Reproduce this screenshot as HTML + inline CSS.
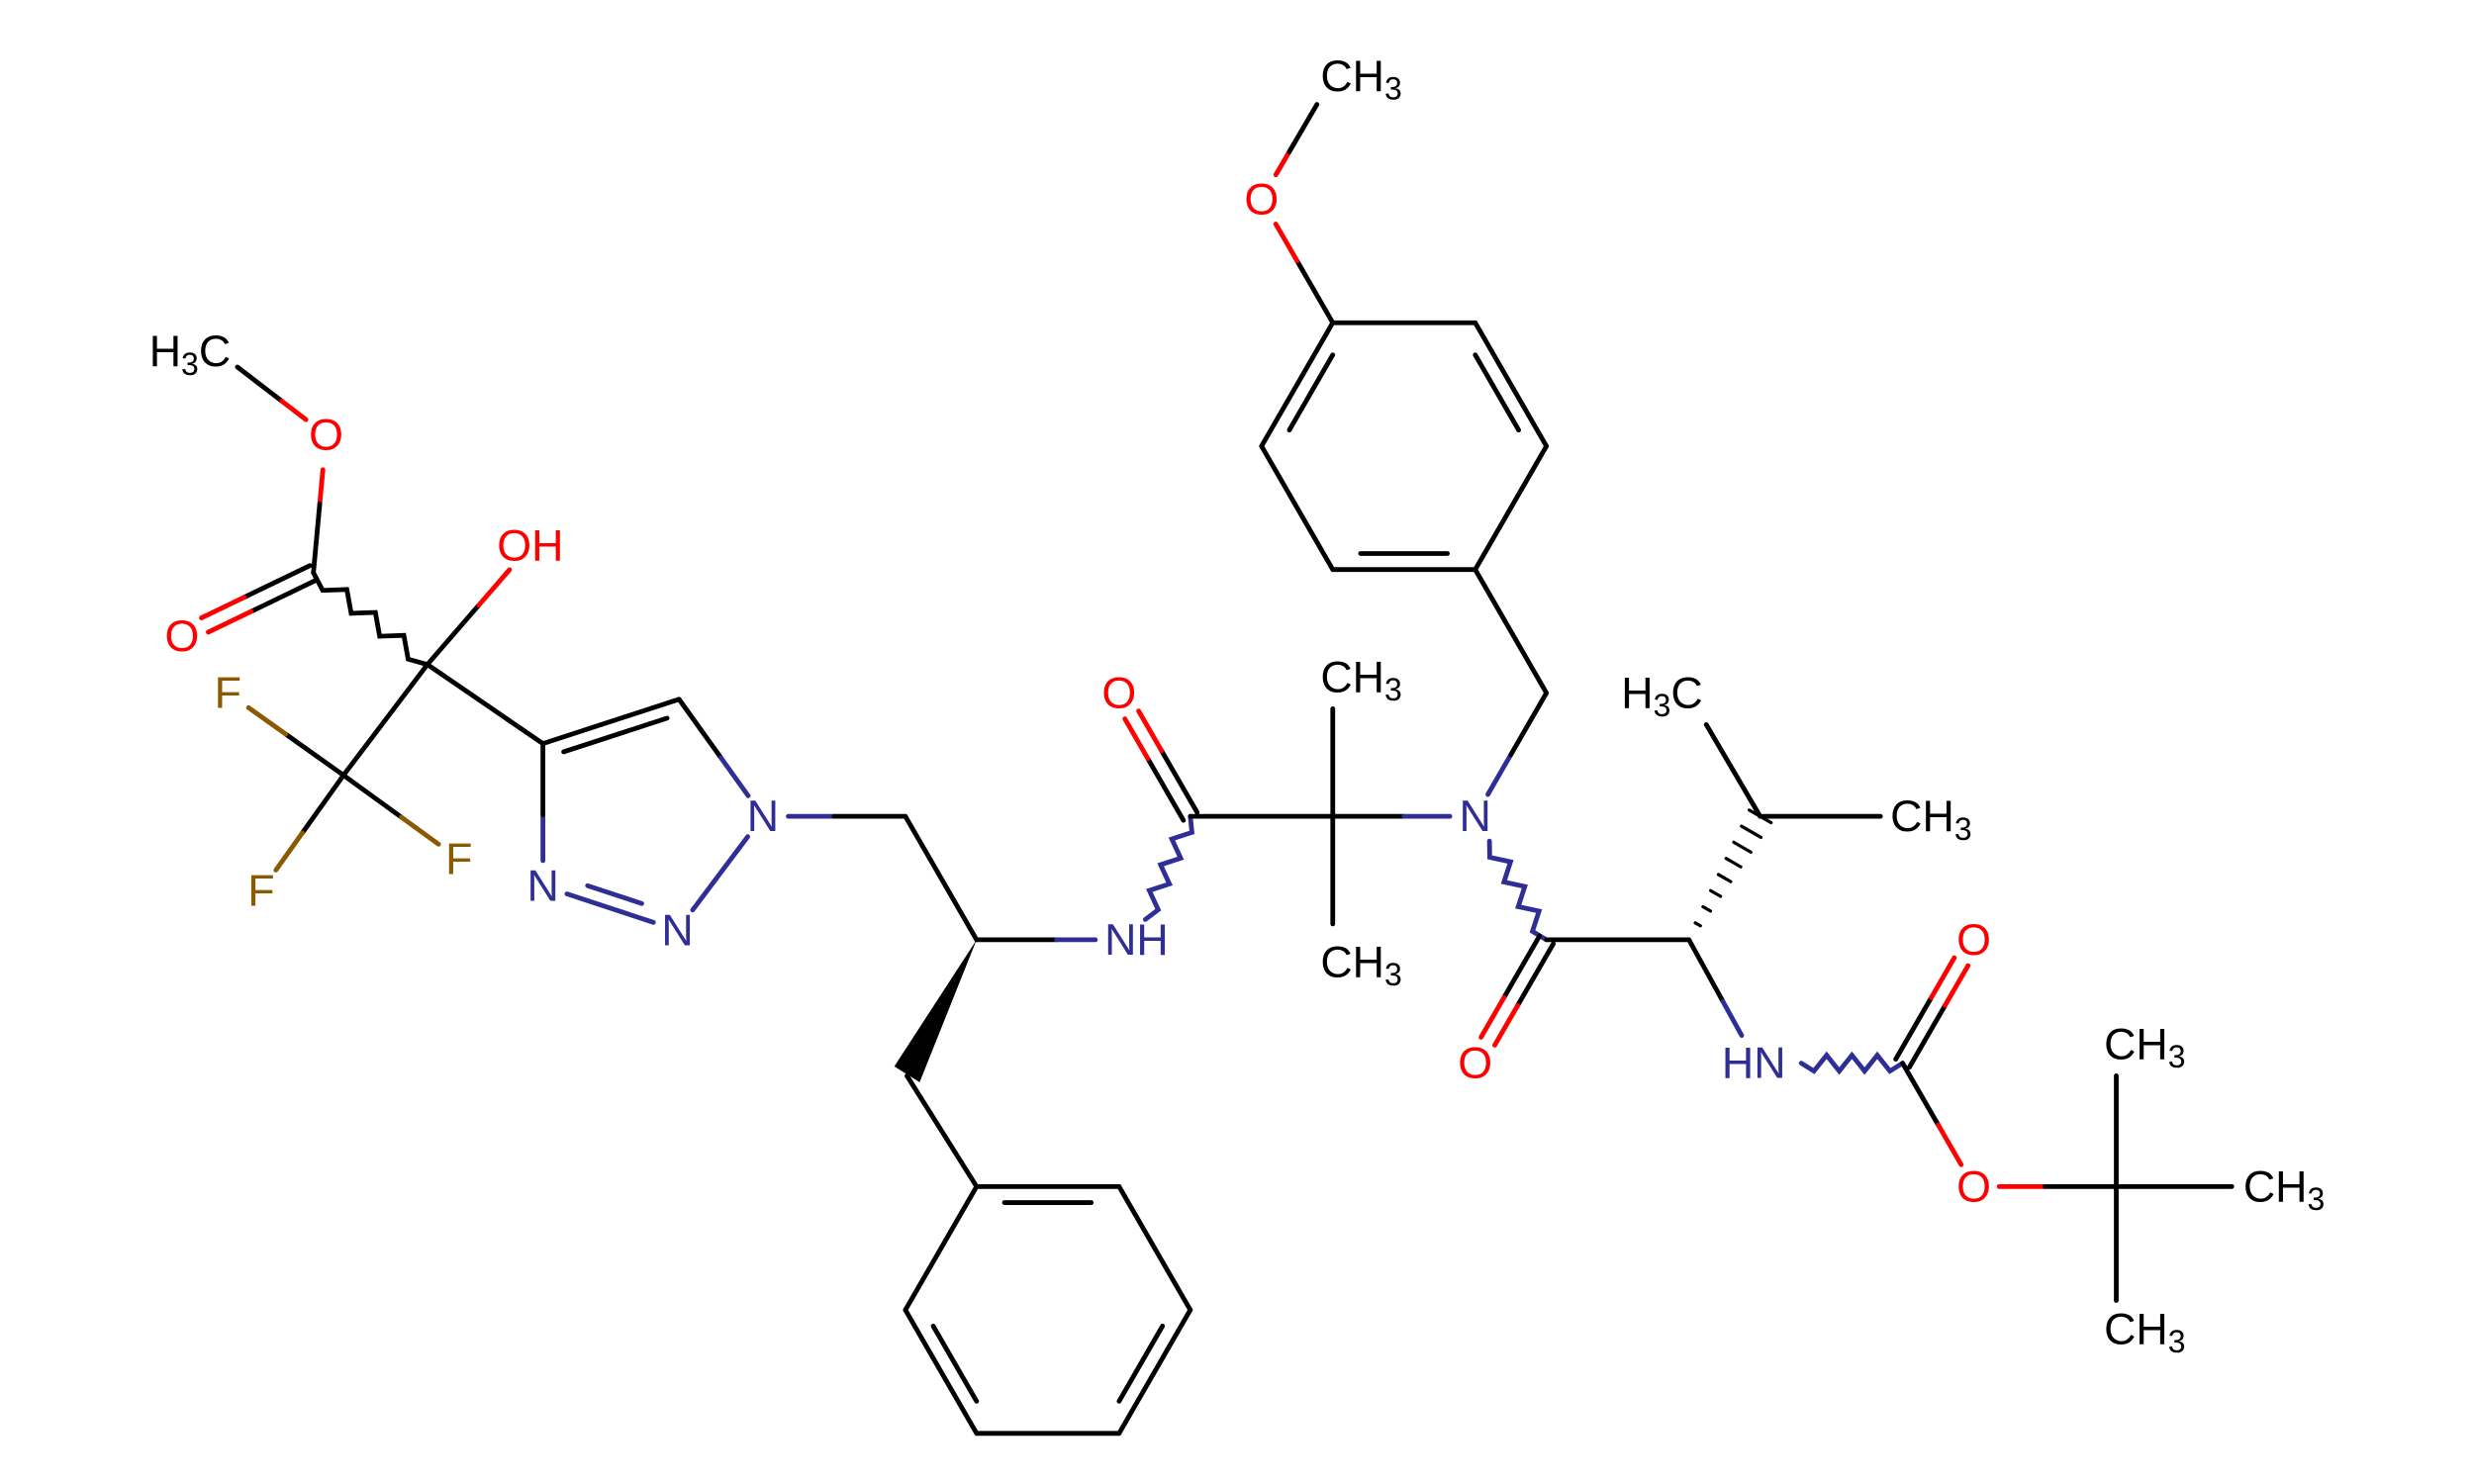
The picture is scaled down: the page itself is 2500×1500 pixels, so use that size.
<!DOCTYPE html>
<html><head><meta charset="utf-8"><style>
html,body{margin:0;padding:0;background:#fff}
svg{display:block}
text{font-family:"Liberation Sans","DejaVu Sans",sans-serif;font-size:28px}
</style></head><body>
<svg id="s" width="2500" height="1500" viewBox="0 0 1563 938" preserveAspectRatio="none" xmlns="http://www.w3.org/2000/svg">
<rect width="1563" height="938" fill="#fff"/>
<g id="b" stroke-width="3" stroke-linecap="round" fill="none"></g>
<polygon points="617,594 565,674 581,684" fill="#000"/>
<g text-anchor="middle" dominant-baseline="central">
<text x="120" y="222" fill="#000">H<tspan font-size="20" dy="8">3</tspan><tspan dy="-8">C</tspan></text>
<text x="206" y="275" fill="#f00">O</text>
<text x="115" y="402" fill="#f00">O</text>
<text x="335" y="345" fill="#f00">OH</text>
<text x="144" y="438" fill="#8b5a00">F</text>
<text x="165" y="563" fill="#8b5a00">F</text>
<text x="290" y="543" fill="#8b5a00">F</text>
<text x="482" y="516" fill="#2e2e96">N</text>
<text x="428" y="588" fill="#2e2e96">N</text>
<text x="343" y="560" fill="#2e2e96">N</text>
<text x="718" y="594" fill="#2e2e96">NH</text>
<text x="707" y="438" fill="#f00">O</text>
<text x="860" y="428" fill="#000">CH<tspan font-size="20" dy="8">3</tspan></text>
<text x="860" y="608" fill="#000">CH<tspan font-size="20" dy="8">3</tspan></text>
<text x="932" y="516" fill="#2e2e96">N</text>
<text x="797" y="126" fill="#f00">O</text>
<text x="860" y="48" fill="#000">CH<tspan font-size="20" dy="8">3</tspan></text>
<text x="932" y="672" fill="#f00">O</text>
<text x="1050" y="438" fill="#000">H<tspan font-size="20" dy="8">3</tspan><tspan dy="-8">C</tspan></text>
<text x="1220" y="516" fill="#000">CH<tspan font-size="20" dy="8">3</tspan></text>
<text x="1108" y="672" fill="#2e2e96">HN</text>
<text x="1247" y="594" fill="#f00">O</text>
<text x="1247" y="750" fill="#f00">O</text>
<text x="1355" y="660" fill="#000">CH<tspan font-size="20" dy="8">3</tspan></text>
<text x="1443" y="750" fill="#000">CH<tspan font-size="20" dy="8">3</tspan></text>
<text x="1355" y="840" fill="#000">CH<tspan font-size="20" dy="8">3</tspan></text>
</g>
</svg>
<script>
var g=document.getElementById('b'),NS='http://www.w3.org/2000/svg';
var K='#000',R='#f00',Nc='#2e2e96',F='#8b5a00';
function ln(x1,y1,x2,y2,c){var l=document.createElementNS(NS,'line');l.setAttribute('x1',x1);l.setAttribute('y1',y1);l.setAttribute('x2',x2);l.setAttribute('y2',y2);l.setAttribute('stroke',c);g.appendChild(l);}
function bd(a,b,ca,cb,sa,sb){var dx=b[0]-a[0],dy=b[1]-a[1],L=Math.hypot(dx,dy),ux=dx/L,uy=dy/L;
var A=[a[0]+ux*(sa||0),a[1]+uy*(sa||0)],B=[b[0]-ux*(sb||0),b[1]-uy*(sb||0)],M=[(a[0]+b[0])/2,(a[1]+b[1])/2];
if(ca==cb){ln(A[0],A[1],B[0],B[1],ca);}else{ln(A[0],A[1],M[0],M[1],ca);ln(M[0],M[1],B[0],B[1],cb);}}
function dbl(a,b,ca,cb,sa,sb,off,side){var dx=b[0]-a[0],dy=b[1]-a[1],L=Math.hypot(dx,dy),px=-dy/L*off,py=dx/L*off;
if(side==0){bd([a[0]+px/2,a[1]+py/2],[b[0]+px/2,b[1]+py/2],ca,cb,sa,sb);bd([a[0]-px/2,a[1]-py/2],[b[0]-px/2,b[1]-py/2],ca,cb,sa,sb);}
else{bd(a,b,ca,cb,sa,sb);var ux=dx/L,uy=dy/L,t=L*0.12;bd([a[0]+px*side+ux*t,a[1]+py*side+uy*t],[b[0]+px*side-ux*t,b[1]+py*side-uy*t],ca,cb,sa,sb);}}
function wavy(a,b,c,sa,sb){var dx=b[0]-a[0],dy=b[1]-a[1],L=Math.hypot(dx,dy),ux=dx/L,uy=dy/L,px=-uy,py=ux;
var s=sa||0,e=L-(sb||0),n=8,d='';for(var i=0;i<=n;i++){var t=s+(e-s)*i/n,o=(i==0||i==n)?0:(i%2?5:-5);d+=(i?'L':'M')+(a[0]+ux*t+px*o)+','+(a[1]+uy*t+py*o);}
var p=document.createElementNS(NS,'path');p.setAttribute('d',d);p.setAttribute('stroke',c);g.appendChild(p);}
function hash(a,b){var dx=b[0]-a[0],dy=b[1]-a[1],L=Math.hypot(dx,dy),px=-dy/L,py=dx/L;
for(var i=0;i<=8;i++){var t=i/8,w=1+t*7,x=a[0]+dx*t,y=a[1]+dy*t;var l=document.createElementNS(NS,'line');l.setAttribute('x1',x+px*w);l.setAttribute('y1',y+py*w);l.setAttribute('x2',x-px*w);l.setAttribute('y2',y-py*w);l.setAttribute('stroke','#000');l.setAttribute('stroke-width','2');g.appendChild(l);}}
// left part
bd([150,232],[206,275],K,R,0,16);
bd([206,275],[198,362],R,K,22,0);
dbl([198,362],[115,402],K,R,0,16,10,0);
wavy([198,362],[270,420],K);
bd([270,420],[335,345],K,R,0,20);
bd([270,420],[217,490],K,K);
bd([217,490],[144,438],K,F,0,16);
bd([217,490],[165,563],K,F,0,16);
bd([217,490],[290,543],K,F,0,16);
bd([270,420],[343,470],K,K);
// triazole
var C4=[343,470],C5=[429,442],N1=[482,516],N2=[428,588],N3=[343,560];
dbl(C4,C5,K,K,0,0,9,1);
bd(C5,N1,K,Nc,0,16);
bd(N1,N2,Nc,Nc,16,16);
dbl(N3,N2,Nc,Nc,16,16,9,-1);
bd(N3,C4,Nc,K,16,0);
bd(N1,[572,516],Nc,K,16,0);
bd([572,516],[617,594],K,K);
bd([617,594],[718,594],K,Nc,0,26);
bd([573,680],[617,750],K,K);
// phenyl
var P=[[617,750],[707,750],[752,828],[707,906],[617,906],[572,828]];
for(var i=0;i<6;i++){bd(P[i],P[(i+1)%6],K,K);}
function inner(a,b,cx,cy){var f=0.13,s=0.15;var A=[a[0]+(cx-a[0])*f,a[1]+(cy-a[1])*f],B=[b[0]+(cx-b[0])*f,b[1]+(cy-b[1])*f];var dx=B[0]-A[0],dy=B[1]-A[1];ln(A[0]+dx*s,A[1]+dy*s,B[0]-dx*s,B[1]-dy*s,K);}
inner(P[0],P[1],662,828);inner(P[2],P[3],662,828);inner(P[4],P[5],662,828);
// amide 1
wavy([718,594],[752,516],Nc,14,0);
dbl([752,516],[707,438],K,R,0,16,10,0);
bd([752,516],[842,516],K,K);
bd([842,516],[842,448],K,K);
bd([842,516],[842,584],K,K);
bd([842,516],[932,516],K,Nc,0,16);
// PMB
bd([932,516],[977,438],Nc,K,16,0);
bd([977,438],[932,360],K,K);
var Q=[[932,360],[842,360],[797,282],[842,204],[932,204],[977,282]];
for(var i=0;i<6;i++){bd(Q[i],Q[(i+1)%6],K,K);}
inner(Q[0],Q[1],887,282);inner(Q[2],Q[3],887,282);inner(Q[4],Q[5],887,282);
bd([842,204],[797,126],K,R,0,18);
bd([797,126],[832,66],R,K,18,0);
// amide 2
wavy([932,516],[977,594],Nc,18,0);
dbl([977,594],[932,672],K,R,0,16,10,0);
bd([977,594],[1067,594],K,K);
hash([1067,594],[1112,516]);
bd([1112,516],[1188,516],K,K);
bd([1112,516],[1078,458],K,K);
bd([1067,594],[1110,672],K,Nc,0,20);
wavy([1110,672],[1202,672],Nc,28,0);
dbl([1202,672],[1247,594],K,R,0,16,10,0);
bd([1202,672],[1247,750],K,R,0,16);
bd([1247,750],[1337,750],R,K,16,0);
bd([1337,750],[1337,680],K,K);
bd([1337,750],[1410,750],K,K);
bd([1337,750],[1337,822],K,K);
</script>
</body></html>
